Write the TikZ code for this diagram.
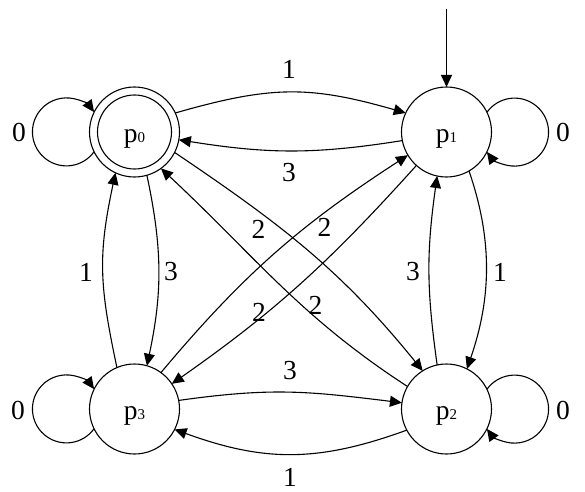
\documentclass[tikz,border=0pt]{standalone}
\usepackage{fontspec}
\setmainfont{Liberation Serif}
\usetikzlibrary{arrows.meta}
\newcommand\stsub[1]{{\fontsize{15}{15}\selectfont #1}}
\begin{document}
\begin{tikzpicture}[x=1pt,y=1pt,
  every node/.style={font=\fontsize{27.5}{27.5}\selectfont},
  state/.style={circle, draw, line width=1.1pt, minimum size=90pt, inner sep=0pt, outer sep=0pt, text height=21pt, text depth=0pt},
  arr/.style={line width=1.1pt, -{Triangle[length=12pt,width=11pt]}},
  lbl/.style={inner sep=0pt}]
\useasboundingbox (0,0) rectangle (585,491);
% states
\node[state] (p0) at (134.5,359) {p\stsub{0}};
\node[state] (p1) at (446.5,359) {p\stsub{1}};
\node[state] (p2) at (446.5,82) {p\stsub{2}};
\node[state] (p3) at (134.5,82) {p\stsub{3}};
\draw[line width=1.1pt] (p0.center) circle[radius=37pt];
% start arrow
\coordinate (start) at (446.5,482);
\draw[arr] (start) -- (p1.north);
% self loops
\draw[arr] (p0.206.2) arc[start angle=-35.7, end angle=-324.3, radius=34pt];
\draw[arr] (p3.206.2) arc[start angle=-35.7, end angle=-324.3, radius=34pt];
\draw[arr] (p1.26.2) arc[start angle=144.3, end angle=-144.3, radius=34pt];
\draw[arr] (p2.26.2) arc[start angle=144.3, end angle=-144.3, radius=34pt];
\node[lbl] (l00) at (19,359) {0};
\node[lbl] (l11) at (563,359) {0};
\node[lbl] (l33) at (18,81) {0};
\node[lbl] (l22) at (563,81) {0};
% horizontal edges
\draw[arr] (p0.25) to[out=16,in=164,distance=100pt] (p1.155);
\draw[arr] (p1.191) to[out=189,in=-9,distance=90pt] (p0.350);
\draw[arr] (p3.11) to[out=8,in=173,distance=95pt] (p2.172);
\draw[arr] (p2.208) to[out=200,in=340,distance=95pt] (p3.333);
\node[lbl] (l01) at (289,422) {1};
\node[lbl] (l10) at (289,318) {3};
\node[lbl] (l32) at (290,120) {3};
\node[lbl] (l23) at (290,14) {1};
% vertical edges
\draw[arr] (p3.113) to[out=102,in=258,distance=85pt] (p0.245);
\draw[arr] (p0.286) to[out=282,in=78,distance=75pt] (p3.74);
\draw[arr] (p2.102) to[out=98,in=262,distance=77pt] (p1.258);
\draw[arr] (p1.300) to[out=289,in=71,distance=74pt] (p2.63);
\node[lbl] (l30) at (86,219) {1};
\node[lbl] (l03) at (171,219) {3};
\node[lbl] (l21) at (413,219) {3};
\node[lbl] (l12) at (500,219) {1};
% diagonal edges
\draw[arr] (p0.-27) to[out=-34,in=129] (p2.122);
\draw[arr] (p2.150) to[out=147,in=-43] (p0.306);
\draw[arr] (p3.54) to[out=50,in=213] (p1.211);
\draw[arr] (p1.228) to[out=228,in=35] (p3.34);
\node[lbl] (d1) at (258.5,261.5) {2};
\node[lbl] (d2) at (324.5,263.5) {2};
\node[lbl] (d3) at (259,179) {2};
\node[lbl] (d4) at (315.5,186) {2};
\end{tikzpicture}
\end{document}
